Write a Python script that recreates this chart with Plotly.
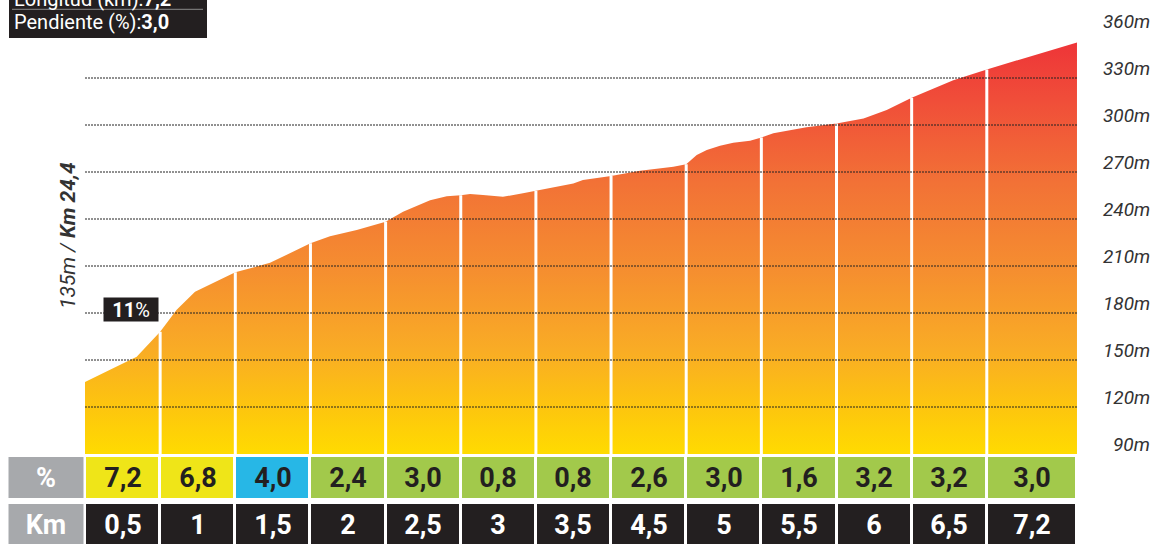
import numpy as np
import plotly.graph_objects as go

# ---------------- data ----------------
km_marks = [0.5, 1, 1.5, 2, 2.5, 3, 3.5, 4.5, 5, 5.5, 6, 6.5, 7.2]
km_labels = ["0,5", "1", "1,5", "2", "2,5", "3", "3,5", "4,5", "5", "5,5", "6", "6,5", "7,2"]
segment_grades = [7.2, 6.8, 4.0, 2.4, 3.0, 0.8, 0.8, 2.6, 3.0, 1.6, 3.2, 3.2, 3.0]

profile_km = [0, 0.17, 0.344, 0.5, 0.61, 0.732, 0.852, 1.0, 1.231, 1.318, 1.409, 1.5,
              1.63, 1.808, 2.0, 2.116, 2.296, 2.407, 2.5, 2.562, 2.648, 2.781, 2.914, 3.0,
              3.249, 3.313, 3.5, 3.886, 4.329, 4.5, 4.57, 4.637, 4.725, 4.813, 4.925, 5.0,
              5.08, 5.30, 5.5, 5.68, 5.834, 6.0, 6.277, 6.5, 7.2]
profile_elev = [136, 144, 152, 168, 182, 193.6, 199, 206, 212, 216, 220.6, 224.5,
                229, 233, 238.3, 244.7, 252, 254.6, 255.2, 256, 255.3, 254.2, 256.4, 258,
                262.7, 264.9, 267.4, 270.8, 273.4, 275, 280.8, 284, 286.8, 288.7, 290, 292,
                294.7, 298.5, 301, 304.2, 309.5, 317.4, 328.6, 335.5, 352.6]

elev_ticks = [90, 120, 150, 180, 210, 240, 270, 300, 330, 360]
grid_levels = [120, 150, 180, 210, 240, 270, 300, 330]
base_elev = 90
start_elev_label = "135m"
start_km_label = "Km 24,4"
length_label = "7,2"
avg_grade_label = "3,0"
max_grade_label = "11"

# ---------------- layout helpers ----------------
W, H = 1156, 544
PX_LEFT, PX_UNIT = 85, 75.15
seg_w = [1.0] * 12 + [1.2]
pos_bounds = np.concatenate([[0.0], np.cumsum(seg_w)])
km_bounds = [0.0] + km_marks


def km_to_pos(k):
    return np.interp(k, km_bounds, pos_bounds)


FONT = "Roboto"
DARK = "#231F20"

prof_x = km_to_pos(profile_km)
fig = go.Figure()

# filled profile
fig.add_trace(go.Scatter(
    x=np.concatenate([[prof_x[0]], prof_x, [prof_x[-1]]]),
    y=[base_elev] + profile_elev + [base_elev],
    fill="toself", mode="lines", line=dict(width=0, color="rgba(0,0,0,0)"),
    fillgradient=dict(type="vertical", start=90, stop=355,
                      colorscale=[[0, "#FFDB00"], [0.12, "#FDC40F"], [0.25, "#F9AC25"],
                                  [0.45, "#F58D30"], [0.65, "#F27236"], [0.85, "#F04E39"],
                                  [1, "#EE3338"]]),
    hoverinfo="skip", showlegend=False))

# white separators at segment boundaries
vx, vy = [], []
for k in km_marks[:-1]:
    p = km_to_pos(k)
    vx += [p, p, None]
    vy += [base_elev, float(np.interp(k, profile_km, profile_elev)), None]
fig.add_trace(go.Scatter(x=vx, y=vy, mode="lines", line=dict(color="white", width=3),
                         hoverinfo="skip", showlegend=False))

# dotted grid
gx, gy = [], []
for g in grid_levels:
    gx += [pos_bounds[0], pos_bounds[-1], None]
    gy += [g, g, None]
fig.add_trace(go.Scatter(x=gx, y=gy, mode="lines",
                         line=dict(color="#222", width=1, dash="2px,1px"),
                         hoverinfo="skip", showlegend=False))

# ---------------- table ----------------
def grade_code(v):
    if v >= 6:
        return 2
    if v >= 4:
        return 1
    return 0


def fmt(v):
    return f"{v:.1f}".replace(".", ",")


fig.add_trace(go.Heatmap(
    x=list(pos_bounds), y=[1, 2], z=[[grade_code(v) for v in segment_grades]],
    text=[[fmt(v) for v in segment_grades]], texttemplate="<b>%{text}</b>",
    textfont=dict(family=FONT, size=27, color=DARK),
    colorscale=[[0, "#A2C94B"], [0.25, "#A2C94B"], [0.25, "#27B7E6"], [0.75, "#27B7E6"],
                [0.75, "#EFE518"], [1, "#EFE518"]],
    zmin=0, zmax=2, showscale=False, xgap=3, ygap=6, hoverinfo="skip", yaxis="y2"))

fig.add_trace(go.Heatmap(
    x=list(pos_bounds), y=[0, 1], z=[[0] * len(km_labels)],
    text=[km_labels], texttemplate="<b>%{text}</b>",
    textfont=dict(family=FONT, size=27, color="white"),
    colorscale=[[0, DARK], [1, DARK]], showscale=False, xgap=3, ygap=6,
    hoverinfo="skip", yaxis="y2"))

fig.add_trace(go.Heatmap(
    x=[-(PX_LEFT - 7.5) / PX_UNIT, 0], y=[0, 1, 2], z=[[0], [0]],
    text=[["Km"], ["%"]], texttemplate="<b>%{text}</b>",
    textfont=dict(family=FONT, size=27, color="white"),
    colorscale=[[0, "#A7A9AC"], [1, "#A7A9AC"]], showscale=False, xgap=3, ygap=6,
    hoverinfo="skip", yaxis="y2"))

# ---------------- annotations ----------------
ann = []
for v in elev_ticks:
    ann.append(dict(xref="paper", yref="y", x=1152 / W, y=v, xanchor="right", yanchor="middle",
                    yshift=10, showarrow=False, text=f"<i>{v}m</i>",
                    font=dict(family=FONT, size=19, color="#333")))
ann.append(dict(xref="paper", yref="paper", x=68 / W, y=1 - 236 / H, textangle=-90,
                xanchor="center", yanchor="middle", showarrow=False,
                text=f"<i>{start_elev_label} / <b>{start_km_label}</b></i>",
                font=dict(family=FONT, size=21, color="#333")))
ann.append(dict(xref="paper", yref="paper", x=131 / W, y=1 - 309.5 / H, showarrow=False,
                xanchor="center", yanchor="middle",
                text=f"<b>{max_grade_label}</b>%", bgcolor=DARK, width=50, height=19,
                borderpad=2, font=dict(family=FONT, size=20, color="white")))
ann.append(dict(xref="paper", yref="paper", x=12 / W, y=1 + 1 / H, xanchor="left",
                yanchor="middle", showarrow=False,
                text=f"Longitud (km):<b>{length_label}</b>",
                font=dict(family=FONT, size=20, color="white")))
ann.append(dict(xref="paper", yref="paper", x=12 / W, y=1 - 22 / H, xanchor="left",
                yanchor="middle", showarrow=False,
                text=f"Pendiente (%):<b>{avg_grade_label}</b>",
                font=dict(family=FONT, size=20, color="white")))

shapes = [
    dict(type="rect", xref="paper", yref="paper", x0=9 / W, x1=207 / W, y0=1 - 38 / H, y1=1.05,
         fillcolor=DARK, line=dict(width=0), layer="above"),
    dict(type="line", xref="paper", yref="paper", x0=12 / W, x1=203 / W, y0=1 - 9.3 / H,
         y1=1 - 9.3 / H, line=dict(color="#8a8a8a", width=1), layer="above"),
]

y_scale = 30 / 47  # metres per pixel
y_bottom_px = 407 + (120 - base_elev) / y_scale
fig.update_layout(
    width=W, height=H, margin=dict(l=0, r=0, t=0, b=0),
    paper_bgcolor="white", plot_bgcolor="rgba(0,0,0,0)",
    xaxis=dict(range=[-PX_LEFT / PX_UNIT, (W - PX_LEFT) / PX_UNIT], visible=False,
               showgrid=False, zeroline=False, fixedrange=True),
    yaxis=dict(domain=[(H - y_bottom_px) / H, 1], range=[base_elev, 120 + 407 * y_scale],
               visible=False, showgrid=False, zeroline=False),
    yaxis2=dict(domain=[0, (H - 452) / H], range=[4 / 47, 2 + 2 / 47], visible=False,
                showgrid=False, zeroline=False),
    annotations=ann, shapes=shapes, showlegend=False,
)

fig.write_html("out.html", config={"displayModeBar": False},
               post_script="document.body.style.margin='0';document.body.style.overflow='hidden';")
